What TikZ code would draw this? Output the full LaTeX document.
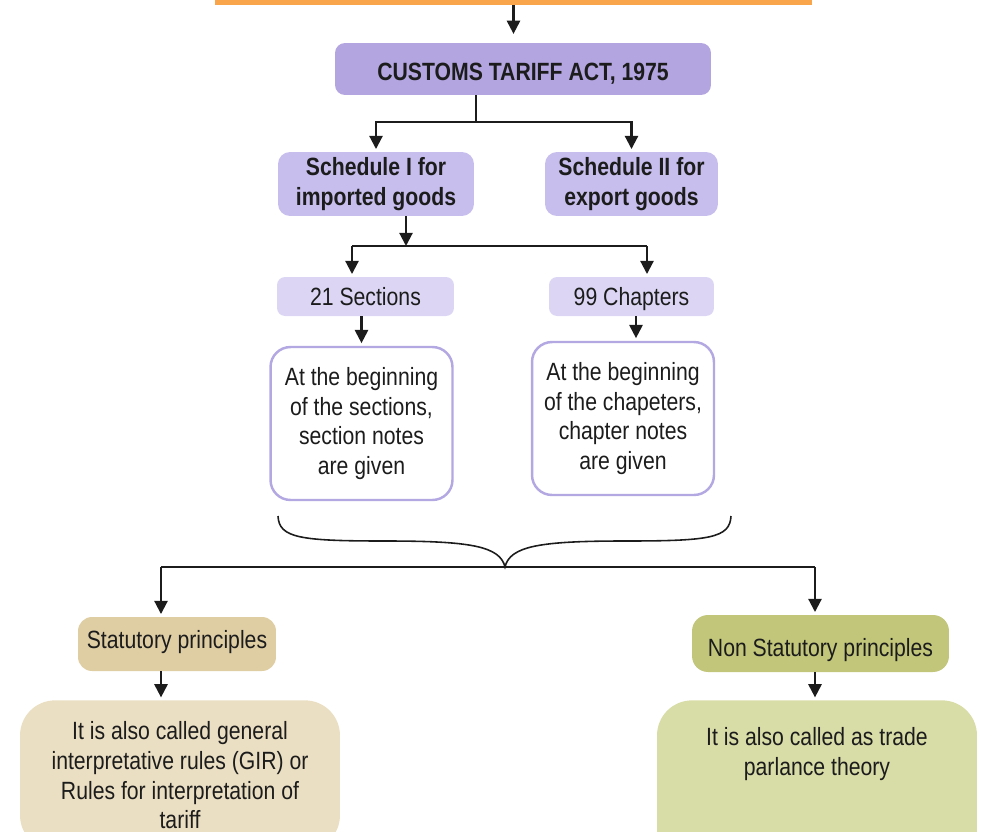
\documentclass[tikz,border=0pt]{standalone}
\usepackage{fontspec}
\setmainfont{Liberation Sans}[FakeStretch=0.85]
\usetikzlibrary{arrows.meta}
\definecolor{barorange}{HTML}{F9A54B}
\definecolor{actpurple}{HTML}{B3A5E0}
\definecolor{schedpurple}{HTML}{C8BEEE}
\definecolor{partpurple}{HTML}{DCD6F4}
\definecolor{noteborder}{HTML}{B4A8E2}
\definecolor{stattan}{HTML}{DFCEA4}
\definecolor{statlight}{HTML}{EBDFC3}
\definecolor{nonstatgreen}{HTML}{C1C67A}
\definecolor{nonstatlight}{HTML}{D8DCA7}
\definecolor{linegray}{HTML}{1C1C1C}
\newcommand{\chartfont}{\fontsize{14.2}{16.8}\selectfont}
\tikzstyle{topbar} = [rectangle, fill=barorange, minimum width=11.94cm, minimum height=0.1cm, inner sep=0pt]
\tikzstyle{headbox} = [rectangle, rounded corners=0.2cm, fill=actpurple, font=\chartfont\bfseries, text height=13.6pt, text depth=0pt, text centered, inner sep=0pt]
\tikzstyle{schedbox} = [rectangle, rounded corners=0.24cm, fill=schedpurple, font=\chartfont\bfseries, align=center, minimum height=1.28cm, inner sep=0pt]
\tikzstyle{partbox} = [rectangle, rounded corners=0.16cm, fill=partpurple, minimum height=0.78cm, text height=10.8pt, text depth=0pt, text centered, inner sep=0pt]
\tikzstyle{notebox} = [rectangle, rounded corners=0.4cm, draw=noteborder, line width=1.4pt, fill=white, align=center, minimum width=3.64cm, minimum height=3.06cm, inner sep=0pt]
\tikzstyle{statbox} = [rectangle, rounded corners=0.28cm, fill=stattan, text height=10.2pt, text depth=5.6pt, text centered, inner sep=0pt]
\tikzstyle{nonstatbox} = [rectangle, rounded corners=0.32cm, fill=nonstatgreen, text height=15pt, text depth=0pt, text centered, inner sep=0pt]
\tikzstyle{infobox} = [rectangle, rounded corners=0.7cm, align=center, minimum width=6.4cm, inner sep=0pt]
\tikzstyle{link} = [line width=1.2pt, draw=linegray]
\tikzstyle{arrow} = [line width=1.2pt, draw=linegray, -{Triangle[length=7.5pt,width=7.5pt]}, shorten >=1.5pt]
\tikzstyle{curly} = [line width=0.9pt, draw=linegray]

\begin{document}
\begin{tikzpicture}[x=0.02cm, y=-0.02cm, font=\chartfont, text=linegray]
    \clip (0,0) rectangle (988,832);
    \node [topbar] at (513.5,2.5) (bar) {};
    \node [headbox, minimum width=7.52cm, minimum height=1.04cm] at (523,69) (act) {CUSTOMS TARIFF ACT, 1975};
    \node [schedbox, minimum width=3.92cm] at (376,184) (sch1) {Schedule I for\\imported goods};
    \node [schedbox, minimum width=3.46cm] at (631.5,184) (sch2) {Schedule II for\\export goods};
    \node [partbox, minimum width=3.54cm] at (365.5,296.5) (sec) {21 Sections};
    \node [partbox, minimum width=3.3cm] at (631.5,296.5) (chap) {99 Chapters};
    \node [notebox] at (361.5,423.5) (secnote) {At the beginning\\of the sections,\\section notes\\are given};
    \node [notebox] at (623,418.5) (chapnote) {At the beginning\\of the chapeters,\\chapter notes\\are given};
    \node [statbox, minimum width=3.96cm, minimum height=1.08cm] at (177,644) (stat) {Statutory principles};
    \node [nonstatbox, minimum width=5.14cm, minimum height=1.14cm] at (820.5,643.5) (nonstat) {Non Statutory principles};
    \node [infobox, fill=statlight, minimum height=3.0cm, anchor=north] at (180,700) (statinfo) {It is also called general\\interpretative rules (GIR) or\\Rules for interpretation of\\tariff};
    \node [infobox, fill=nonstatlight, minimum height=3.4cm, anchor=north] at (817,700) (nonstatinfo) {It is also called as trade\\parlance theory\\\strut\\\strut};

    % junction points
    \coordinate (split1) at (476,122);
    \coordinate (split2) at (406,246);
    \coordinate (split2l) at (352,246);
    \coordinate (split2r) at (647,246);
    \coordinate (chapdrop) at (636,330);
    \coordinate (braceL) at (278,516);
    \coordinate (braceR) at (731,516);
    \coordinate (braceTip) at (505,567);
    \coordinate (split3l) at (161,567);
    \coordinate (split3r) at (815,567);

    \draw [arrow, shorten >=5pt] (bar.south) -- (bar.south |- act.north);
    \draw [link] (act.south -| split1) -- (split1);
    \draw [arrow] (split1) -| (sch1);
    \draw [arrow] (split1) -| (sch2);
    \draw [arrow, shorten >=0pt] (sch1.south -| split2) -- (split2);
    \draw [link] (split2l) -- (split2r);
    \draw [arrow] (split2l) -- (split2l |- sec.north);
    \draw [arrow] (split2r) -- (split2r |- chap.north);
    \draw [arrow] (sec.south -| secnote) -- (secnote);
    \draw [arrow] (chap.south -| chapdrop) -- (chapnote.north -| chapdrop);
    \draw [curly] (braceL) .. controls (279,538) and (300,541) .. (385,541)
        .. controls (470,541) and (500,546) .. (braceTip)
        .. controls (510,546) and (540,541) .. (625,541)
        .. controls (710,541) and (730,538) .. (braceR);
    \draw [link] (split3l) -- (split3r);
    \draw [arrow] (split3l) -- (split3l |- stat.north);
    \draw [arrow] (split3r) -- (split3r |- nonstat.north);
    \draw [arrow] (split3l |- stat.south) -- (split3l |- statinfo.north);
    \draw [arrow] (split3r |- nonstat.south) -- (split3r |- nonstatinfo.north);
\end{tikzpicture}
\end{document}
